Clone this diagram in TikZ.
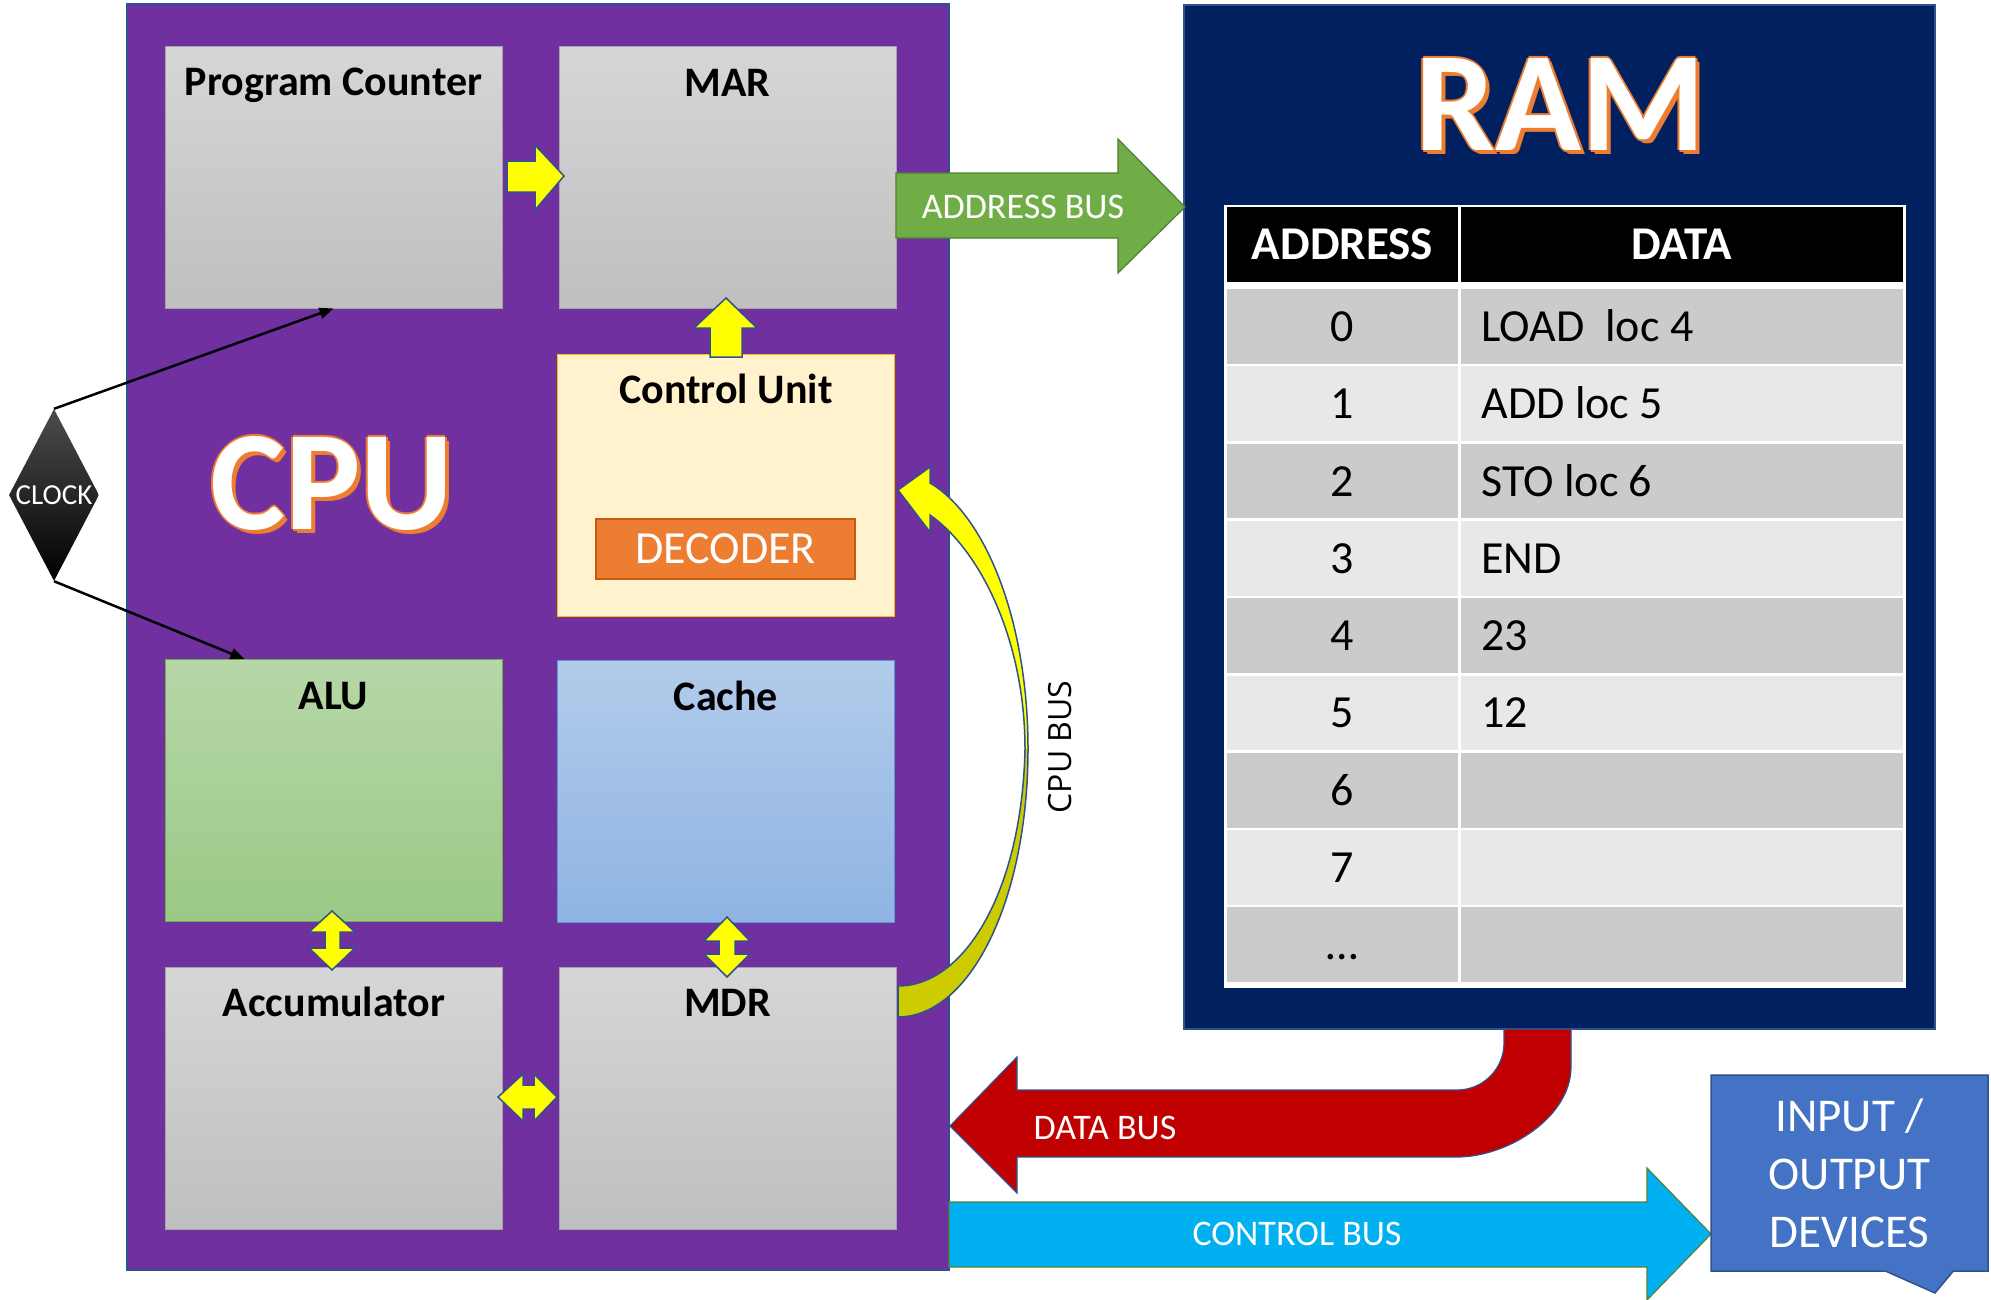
\documentclass[tikz,border=0pt]{standalone}
\usepackage{fontspec}
\setmainfont{Carlito}
\newfontfamily\busfont{Open Sans}
\usetikzlibrary{positioning,calc,shapes.geometric,shapes.callouts,arrows.meta}

\definecolor{cpupurple}{HTML}{7030A0}
\definecolor{edgeblue}{HTML}{2F528F}
\definecolor{ramblue}{HTML}{002060}
\definecolor{regtop}{HTML}{D6D6D6}
\definecolor{regbot}{HTML}{BFBFBF}
\definecolor{regedge}{HTML}{A5A5A5}
\definecolor{alutop}{HTML}{B6D7A8}
\definecolor{alubot}{HTML}{9BC985}
\definecolor{aluedge}{HTML}{70AD47}
\definecolor{cachetop}{HTML}{B2CBEA}
\definecolor{cachebot}{HTML}{8FB4E3}
\definecolor{cacheedge}{HTML}{5B9BD5}
\definecolor{cufill}{HTML}{FFF2CC}
\definecolor{cuedge}{HTML}{FFC000}
\definecolor{decfill}{HTML}{ED7D31}
\definecolor{decedge}{HTML}{C55A11}
\definecolor{addrgreen}{HTML}{70AD47}
\definecolor{addredge}{HTML}{507E32}
\definecolor{datared}{HTML}{C00000}
\definecolor{ctrlblue}{HTML}{00B0F0}
\definecolor{ctrledge}{HTML}{548235}
\definecolor{iofill}{HTML}{4472C4}
\definecolor{busyellow}{HTML}{FFFF00}
\definecolor{busolive}{HTML}{CCCC00}
\definecolor{rowdark}{HTML}{CBCBCB}
\definecolor{rowlight}{HTML}{E8E8E8}
\definecolor{glow}{HTML}{ED7D31}

\newcommand\glowtext[1]{%
	\makebox[0pt][l]{\hspace*{4pt}\raisebox{-4pt}{\textcolor{glow}{#1}}}%
	\makebox[0pt][l]{\hspace*{2pt}\raisebox{-2pt}{\textcolor{glow}{#1}}}%
	\makebox[0pt][l]{\hspace*{-2pt}\textcolor{glow}{#1}}%
	\makebox[0pt][l]{\hspace*{2pt}\textcolor{glow}{#1}}%
	\makebox[0pt][l]{\raisebox{2pt}{\textcolor{glow}{#1}}}%
	\makebox[0pt][l]{\raisebox{-2pt}{\textcolor{glow}{#1}}}%
	#1}

\begin{document}
\begin{tikzpicture}[x=1pt, y=-1pt,
		reg/.style={draw=regedge, line width=1pt, top color=regtop, bottom color=regbot, minimum width=337pt, minimum height=262pt},
		title/.style={inner sep=0pt, text height=27pt, text depth=0pt, font=\bfseries\fontsize{42}{50}\selectfont},
		bigtitle/.style={inner sep=0pt, text=white, text height=92pt, text depth=0pt, font=\bfseries\fontsize{142}{150}\selectfont},
		bus/.style={text=white, font=\fontsize{36}{40}\selectfont},
		yarrow/.style={fill=busyellow, draw=edgeblue, line width=1.5pt},
		cell/.style={inner sep=0pt, minimum height=74.8pt, text height=30pt, text depth=0pt, font=\fontsize{46}{50}\selectfont},
		addrcell/.style={cell, minimum width=231pt},
		datacell/.style={cell, minimum width=442.5pt},
		hdcell/.style={cell, fill=black, text=white, minimum height=75pt, font=\bfseries\fontsize{47}{50}\selectfont},
		clockwire/.style={line width=2.5pt, -{Triangle[length=14pt,width=11pt]}}]
	\useasboundingbox (0,0) rectangle (1991,1299);

	% cpu and its registers
	\node [fill=cpupurple, draw=edgeblue, line width=1.2pt, minimum width=822pt, minimum height=1266pt] (cpu) at (538,637) {};
	\node [reg] (pc) at (333.5,177) {};
	\node [reg] (mar) at (727.5,177.5) {};
	\node [reg, fill=cufill, draw=cuedge, top color=cufill, bottom color=cufill] (cu) at (726,485) {};
	\node [reg, draw=aluedge, top color=alutop, bottom color=alubot] (alu) at (333.5,790.5) {};
	\node [reg, draw=cacheedge, top color=cachetop, bottom color=cachebot] (cache) at (726,791.5) {};
	\node [reg] (acc) at (334,1098) {};
	\node [reg] (mdr) at (727.5,1098) {};

	\node [title, below=23pt of pc.north] (pctext) {Program Counter};
	\node [title, below=23pt of mar.north] (martext) {MAR};
	\node [title, below=23pt of cu.north] (cutext) {Control Unit};
	\node [title, below=23pt of alu.north] (alutext) {ALU};
	\node [title, below=23pt of cache.north] (cachetext) {Cache};
	\node [title, below=23pt of acc.north] (acctext) {Accumulator};
	\node [title, below=23pt of mdr.north] (mdrtext) {MDR};

	\node [fill=decfill, draw=decedge, line width=1.5pt, minimum width=259pt, minimum height=60pt, inner sep=0pt, text=white, font=\fontsize{46}{50}\selectfont] (dec) at (725.5,549) {DECODER};
	\node [bigtitle] (cputext) at (332,483) {\glowtext{CPU}};

	% clock
	\node [diamond, aspect=0.52, minimum width=90pt, minimum height=172pt, inner sep=0pt, top color=black!70, middle color=black, bottom color=black, text=white, font=\fontsize{29}{32}\selectfont] (clock) at (54,495) {CLOCK};
	\coordinate (alutip) at ($(alu.north west)+(80,0)$);
	\draw [clockwire] (clock.north) -- (pc.south);
	\draw [clockwire] (clock.south) -- (alutip);

	% yellow arrows between registers
	\filldraw [yarrow] (507,161) -- (535,161) -- (535,145) -- (564,176) -- (535,210) -- (535,192) -- (507,192) -- cycle;
	\filldraw [yarrow] (710,357) -- (710,328) -- (694,328) -- (726,298) -- (757,328) -- (742,328) -- (742,357) -- cycle;
	\filldraw [yarrow] (332,911) -- (355,932) -- (340,932) -- (340,948) -- (355,948) -- (332,970) -- (309,948) -- (325,948) -- (325,932) -- (309,932) -- cycle;
	\filldraw [yarrow] (727,917) -- (750,941) -- (735,941) -- (735,954) -- (750,954) -- (727,977) -- (704,954) -- (719,954) -- (719,941) -- (704,941) -- cycle;
	\filldraw [yarrow] (498,1097) -- (523,1074) -- (523,1085) -- (534,1085) -- (534,1074) -- (557,1097) -- (534,1121) -- (534,1109) -- (523,1109) -- (523,1121) -- cycle;

	% cpu bus
	\fill [busyellow] (898,490) -- (930,467) -- (930,483) .. controls (985,515) and (1028,620) .. (1028,749)
		.. controls (1028,900) and (970,1017) .. (898,1017) -- (898,986)
		.. controls (965,986) and (1022,890) .. (1025,749) .. controls (1025,640) and (980,550) .. (930,515) -- (930,532) -- cycle;
	\fill [busolive] (1028,749) .. controls (1028,900) and (970,1017) .. (898,1017) -- (898,986)
		.. controls (965,986) and (1022,890) .. (1025,749) -- cycle;
	\draw [draw=edgeblue, line width=1.5pt] (898,490) -- (930,467) -- (930,483) .. controls (985,515) and (1028,620) .. (1028,749)
		.. controls (1028,900) and (970,1017) .. (898,1017) -- (898,986)
		.. controls (965,986) and (1022,890) .. (1025,749) .. controls (1025,640) and (980,550) .. (930,515) -- (930,532) -- cycle;
	\node [rotate=90, font=\busfont\fontsize{32}{36}\selectfont] (cpubus) at (1060,747) {CPU BUS};

	% ram
	\node [fill=ramblue, draw=edgeblue, line width=1.5pt, minimum width=751pt, minimum height=1024pt] (ram) at (1559.5,517) {};
	\node [bigtitle] (ramtext) at (1561,104) {\glowtext{RAM}};
	\node [fill=white, inner sep=0pt, minimum width=681.5pt, minimum height=783pt] (tbl) at (1564.75,596) {};
	\node [hdcell, minimum width=231pt] (addrhd) at (1342.5,244.5) {ADDRESS};
	\node [hdcell, minimum width=442.5pt] (datahd) at (1681.75,244.5) {DATA};
	\foreach \i/\addr/\data/\shade in {0/0/LOAD~~loc 4/rowdark, 1/1/ADD loc 5/rowlight, 2/2/STO loc 6/rowdark,
			3/3/END/rowlight, 4/4/23/rowdark, 5/5/12/rowlight, 6/6/{}/rowdark, 7/7/{}/rowlight, 8/\ldots/{}/rowdark}
	{
		\node [addrcell, fill=\shade] (a\i) at (1342.5,{326.4+77.3*\i}) {\addr};
		\node [datacell, fill=\shade] (d\i) at (1681.75,{326.4+77.3*\i}) {};
		\node [cell, anchor=west] (t\i) at ($(d\i.west)+(21,0)$) {\data};
	}

	% buses
	\filldraw [fill=addrgreen, draw=addredge, line width=1.2pt] (896,173) -- (1118,173) -- (1118,139) -- (1185,207) -- (1118,273) -- (1118,238) -- (896,238) -- cycle;
	\node [bus] (addrbus) at (1023,207) {ADDRESS BUS};
	\filldraw [fill=datared, draw=edgeblue, line width=1.2pt] (950,1126) -- (1017,1057) -- (1017,1090) -- (1457,1090)
		.. controls (1483,1090) and (1504,1069) .. (1504,1043) -- (1504,1029) -- (1571,1029) -- (1571,1067)
		.. controls (1571,1117) and (1508,1157) .. (1457,1157) -- (1017,1157) -- (1017,1193) -- cycle;
	\node [bus] (databus) at (1105,1128) {DATA BUS};
	\filldraw [fill=ctrlblue, draw=ctrledge, line width=1.2pt] (949,1202) -- (1647,1202) -- (1647,1168) -- (1711,1234) -- (1647,1300) -- (1647,1267) -- (949,1267) -- cycle;
	\node [bus] (ctrlbus) at (1297,1234) {CONTROL BUS};

	% input / output
	\node [rectangle callout, callout absolute pointer={(1935,1293)}, callout pointer width=68pt, fill=iofill, draw=edgeblue, line width=1.5pt,
		minimum width=277pt, minimum height=196pt, text=white, align=center, font=\fontsize{47}{58}\selectfont] (io) at (1849.5,1173) {INPUT /\\OUTPUT\\DEVICES};
\end{tikzpicture}
\end{document}
